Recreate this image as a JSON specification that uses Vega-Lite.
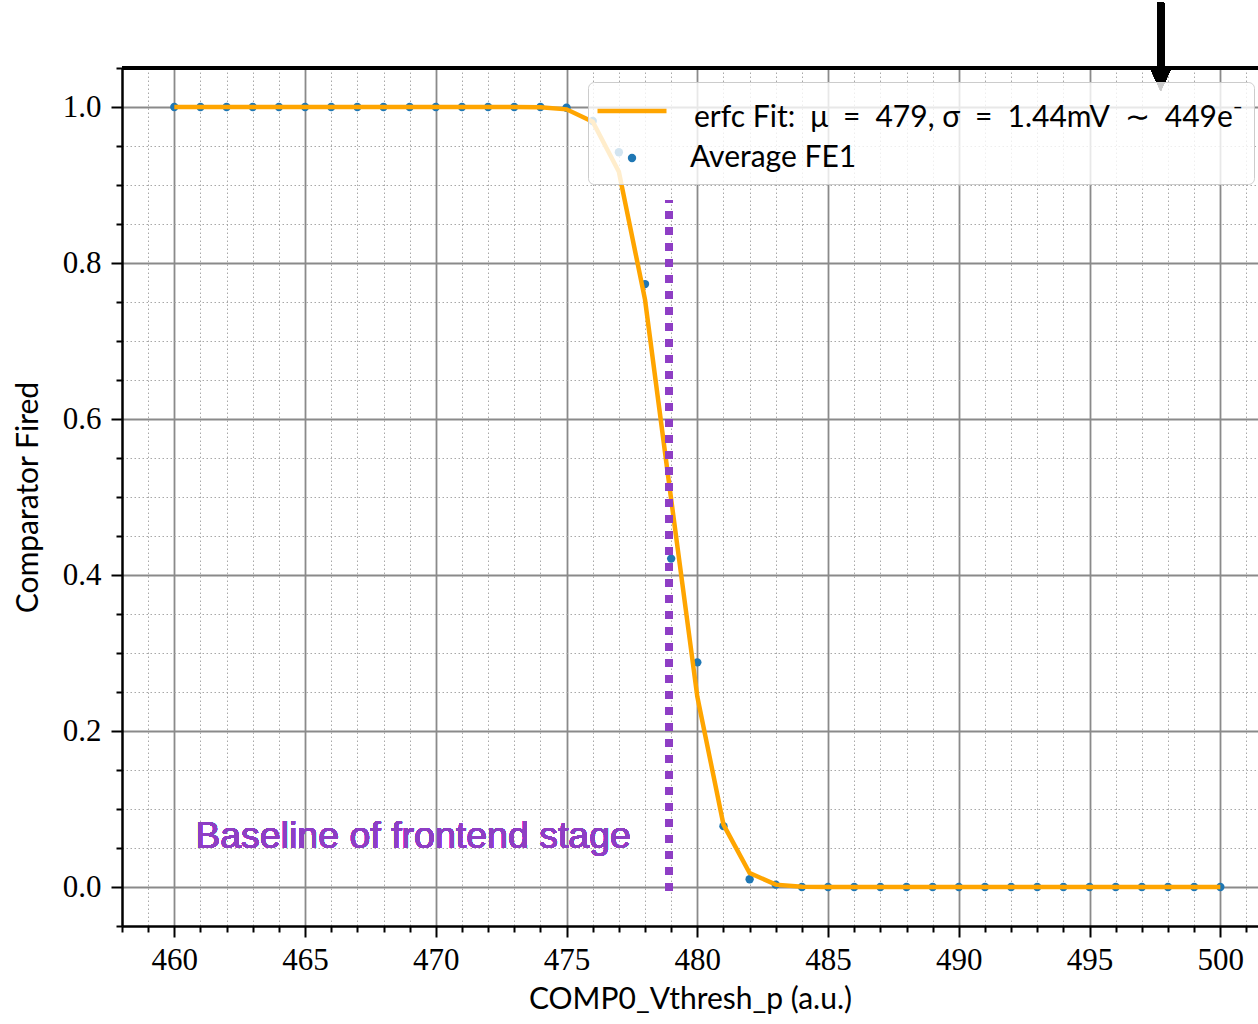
{
  "$schema": "https://vega.github.io/schema/vega-lite/v6.json",
  "width": 1136,
  "height": 858,
  "autosize": {"type": "none"},
  "padding": {"left": 122, "top": 68, "right": 0, "bottom": 98},
  "background": "white",
  "config": {"view": {"stroke": null}},
  "resolve": {"axis": {"x": "independent", "y": "independent"}},
  "datasets": {
    "main": [
      {"x": 460, "avg": 1.0, "fit": 1.0},
      {"x": 461, "avg": 1.0, "fit": 1.0},
      {"x": 462, "avg": 1.0, "fit": 1.0},
      {"x": 463, "avg": 1.0, "fit": 1.0},
      {"x": 464, "avg": 1.0, "fit": 1.0},
      {"x": 465, "avg": 1.0, "fit": 1.0},
      {"x": 466, "avg": 1.0, "fit": 1.0},
      {"x": 467, "avg": 1.0, "fit": 1.0},
      {"x": 468, "avg": 1.0, "fit": 1.0},
      {"x": 469, "avg": 1.0, "fit": 1.0},
      {"x": 470, "avg": 1.0, "fit": 1.0},
      {"x": 471, "avg": 1.0, "fit": 1.0},
      {"x": 472, "avg": 1.0, "fit": 1.0},
      {"x": 473, "avg": 1.0, "fit": 1.0},
      {"x": 474, "avg": 1.0, "fit": 0.9997},
      {"x": 475, "avg": 0.999, "fit": 0.997},
      {"x": 476, "avg": 0.982, "fit": 0.981},
      {"x": 477, "avg": 0.942, "fit": 0.917},
      {"x": 478, "avg": 0.773, "fit": 0.753},
      {"x": 479, "avg": 0.421, "fit": 0.497},
      {"x": 480, "avg": 0.288, "fit": 0.244},
      {"x": 481, "avg": 0.078, "fit": 0.080},
      {"x": 482, "avg": 0.010, "fit": 0.018},
      {"x": 483, "avg": 0.003, "fit": 0.003},
      {"x": 484, "avg": 0.0, "fit": 0.0003},
      {"x": 485, "avg": 0.0, "fit": 0.0},
      {"x": 486, "avg": 0.0, "fit": 0.0},
      {"x": 487, "avg": 0.0, "fit": 0.0},
      {"x": 488, "avg": 0.0, "fit": 0.0},
      {"x": 489, "avg": 0.0, "fit": 0.0},
      {"x": 490, "avg": 0.0, "fit": 0.0},
      {"x": 491, "avg": 0.0, "fit": 0.0},
      {"x": 492, "avg": 0.0, "fit": 0.0},
      {"x": 493, "avg": 0.0, "fit": 0.0},
      {"x": 494, "avg": 0.0, "fit": 0.0},
      {"x": 495, "avg": 0.0, "fit": 0.0},
      {"x": 496, "avg": 0.0, "fit": 0.0},
      {"x": 497, "avg": 0.0, "fit": 0.0},
      {"x": 498, "avg": 0.0, "fit": 0.0},
      {"x": 499, "avg": 0.0, "fit": 0.0},
      {"x": 500, "avg": 0.0, "fit": 0.0}
    ]
  },
  "data": {"name": "main"},
  "layer": [
    {
      "mark": {"type": "point", "filled": true, "size": 70, "opacity": 1, "strokeWidth": 0},
      "encoding": {
        "x": {
          "field": "x", "type": "quantitative",
          "scale": {"domain": [458, 501.44], "nice": false, "zero": false},
          "axis": {
            "orient": "bottom",
            "values": [460, 465, 470, 475, 480, 485, 490, 495, 500],
            "format": "d",
            "labelFont": "Liberation Serif", "labelFontSize": 31, "labelColor": "black", "labelPadding": 8,
            "labelFlush": false, "labelOverlap": false,
            "tickColor": "black", "tickWidth": 2, "tickSize": 11,
            "domainColor": "black", "domainWidth": 2.5,
            "grid": true, "gridColor": "#8a8a8a", "gridWidth": 1.8,
            "title": "COMP0_Vthresh_p (a.u.)",
            "titleFont": "Lato", "titleFontSize": 30, "titleFontWeight": "normal", "titleColor": "black",
            "titleX": 568, "titleY": 82, "titleBaseline": "alphabetic", "titleAlign": "center"
          }
        },
        "y": {
          "field": "avg", "type": "quantitative",
          "scale": {"domain": [-0.05, 1.05], "nice": false, "zero": false},
          "axis": {
            "orient": "left",
            "values": [0, 0.2, 0.4, 0.6, 0.8, 1.0],
            "format": ".1f",
            "labelFont": "Liberation Serif", "labelFontSize": 31, "labelColor": "black", "labelPadding": 10,
            "labelFlush": false, "labelOverlap": false,
            "tickColor": "black", "tickWidth": 2, "tickSize": 11,
            "domainColor": "black", "domainWidth": 2.5,
            "grid": true, "gridColor": "#8a8a8a", "gridWidth": 1.8,
            "title": "Comparator Fired",
            "titleFont": "Lato", "titleFontSize": 30, "titleFontWeight": "normal", "titleColor": "black",
            "titleX": -94, "titleY": 429, "titleAngle": -90, "titleAlign": "center", "titleBaseline": "middle"
          }
        },
        "fill": {
          "datum": "Average FE1",
          "scale": {"domain": ["Average FE1"], "range": ["#1f77b4"]},
          "legend": {
            "orient": "none", "legendX": 466, "legendY": 14, "zindex": 1,
            "title": ["\u200B", "\u200B\u2003\u2003\u2003\u2003\u2006erfc Fit:\u2002μ\u2002=\u2002479, σ\u2002=\u20021.44mV\u2002∼\u2002449e⁻"],
            "titleFont": "Lato", "titleFontSize": 30, "titleFontWeight": "normal", "titleColor": "black",
            "titleLimit": 2000, "titlePadding": 10, "titleLineHeight": 10,
            "fillColor": "rgba(255,255,255,0.8)", "strokeColor": "#cccccc", "cornerRadius": 6,
            "padding": 11,
            "labelFont": "Lato", "labelFontSize": 30, "labelColor": "black", "labelOffset": 43, "labelLimit": 1000,
            "symbolType": "circle", "symbolSize": 70, "symbolOffset": 18, "symbolStrokeWidth": 0, "symbolOpacity": 1
          }
        }
      }
    },
    {
      "mark": {"type": "line", "strokeWidth": 4.5, "interpolate": "linear"},
      "encoding": {
        "x": {
          "field": "x", "type": "quantitative",
          "axis": {
            "orient": "bottom",
            "values": [458,459,461,462,463,464,466,467,468,469,471,472,473,474,476,477,478,479,481,482,483,484,486,487,488,489,491,492,493,494,496,497,498,499,501],
            "labels": false, "domain": false, "title": null,
            "tickColor": "black", "tickWidth": 2, "tickSize": 6,
            "grid": true, "gridColor": "#a8a8a8", "gridWidth": 1, "gridDash": [1.5, 2.5]
          }
        },
        "y": {
          "field": "fit", "type": "quantitative",
          "axis": {
            "orient": "left",
            "values": [-0.05, 0.05, 0.1, 0.15, 0.25, 0.3, 0.35, 0.45, 0.5, 0.55, 0.65, 0.7, 0.75, 0.85, 0.9, 0.95, 1.05],
            "labels": false, "domain": false, "title": null,
            "tickColor": "black", "tickWidth": 2, "tickSize": 6,
            "grid": true, "gridColor": "#a8a8a8", "gridWidth": 1, "gridDash": [1.5, 2.5]
          }
        },
        "stroke": {
          "datum": "erfc Fit",
          "scale": {"domain": ["erfc Fit"], "range": ["#ffa500"]},
          "legend": {
            "orient": "none", "legendX": 473, "legendY": 6, "zindex": 2,
            "title": null, "padding": 0,
            "labelExpr": "''", "labelFontSize": 30,
            "symbolType": "stroke", "symbolSize": 4761, "symbolStrokeWidth": 4.5, "symbolOpacity": 1
          }
        }
      }
    },
    {
      "mark": {"type": "rule", "color": "#8e3ec4", "strokeWidth": 7, "strokeDash": [7, 9], "strokeCap": "butt"},
      "encoding": {
        "x": {"datum": 478.93, "type": "quantitative", "axis": null},
        "y": {"datum": -0.0045, "type": "quantitative", "axis": null},
        "y2": {"datum": 0.8806}
      }
    },
    {
      "mark": {"type": "text", "text": "Baseline of frontend stage", "font": "Liberation Sans", "fontSize": 37.5, "color": "#8e3ec4", "align": "left", "baseline": "alphabetic"},
      "encoding": {
        "x": {"datum": 460.8, "type": "quantitative", "axis": null},
        "y": {"datum": 0.05, "type": "quantitative", "axis": null}
      }
    },
    {
      "mark": {"type": "rule", "color": "black", "strokeWidth": 2.5},
      "encoding": {
        "y": {"datum": 1.05, "type": "quantitative", "axis": null}
      }
    },
    {
      "mark": {"type": "rule", "color": "black", "strokeWidth": 7, "clip": false},
      "encoding": {
        "x": {"datum": 497.72, "type": "quantitative", "axis": null},
        "y": {"datum": 1.1335, "type": "quantitative", "axis": null},
        "y2": {"datum": 1.05}
      }
    },
    {
      "mark": {"type": "point", "shape": "M-0.92,-1L0.92,-1L0,1Z", "filled": true, "color": "black", "size": 576, "opacity": 1, "clip": false},
      "encoding": {
        "x": {"datum": 497.72, "type": "quantitative", "axis": null},
        "y": {"datum": 1.0359, "type": "quantitative", "axis": null}
      }
    }
  ]
}
